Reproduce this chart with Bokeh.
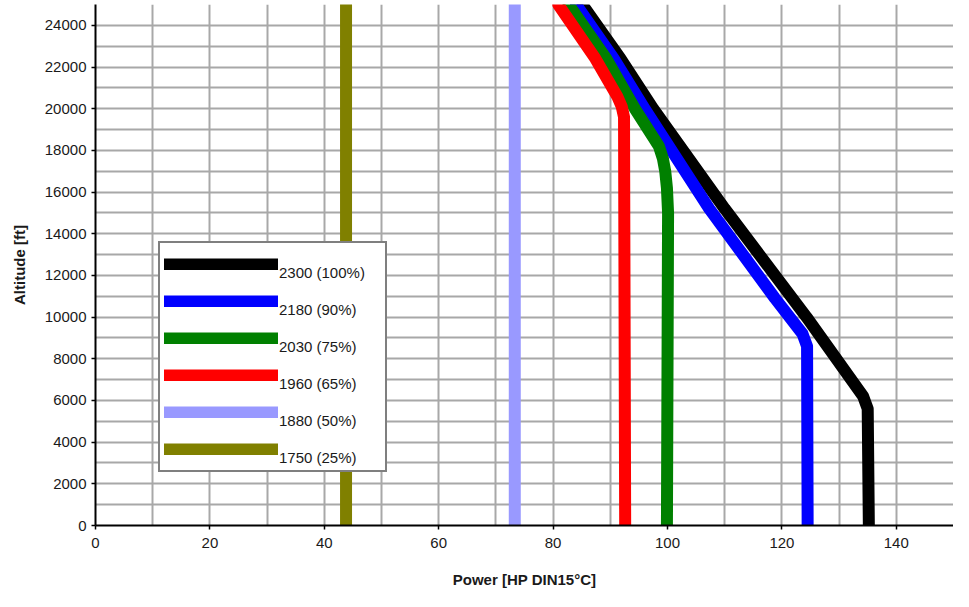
from bokeh.plotting import figure
from bokeh.models import Range1d, SingleIntervalTicker, Legend, LegendItem
from bokeh.embed import file_html
from bokeh.resources import INLINE

# ---- data ----
alt_2300 = [0, 5600, 6200, 10000, 15200, 20000, 22400, 25000]
hp_2300 = [135.2, 135.0, 134.2, 124.3, 110.0, 97.5, 91.8, 85.1]

alt_2180 = [0, 8600, 9200, 10900, 15200, 20000, 22400, 25000]
hp_2180 = [124.5, 124.4, 123.6, 118.8, 107.3, 96.0, 90.6, 84.0]

alt_2030 = [0, 15000, 16200, 17000, 17600, 18200, 20000, 22400, 25000]
hp_2030 = [99.9, 100.1, 99.9, 99.6, 99.2, 98.5, 94.3, 89.3, 82.7]

alt_1960 = [0, 19600, 20100, 20600, 22400, 25000]
hp_1960 = [92.6, 92.4, 92.0, 91.2, 87.4, 80.9]

alt_1880 = [0, 25000]
hp_1880 = [73.3, 73.3]

alt_1750 = [0, 25000]
hp_1750 = [43.8, 43.8]

series_labels = ["2300 (100%)", "2180 (90%)", "2030 (75%)", "1960 (65%)", "1880 (50%)", "1750 (25%)"]
series_colors = ["#000000", "#0000FF", "#008000", "#FF0000", "#9999FF", "#808000"]

x_title = "Power [HP DIN15°C]"
y_title = "Altitude [ft]"

FONT = "Liberation Sans"

p = figure(width=953, height=591, output_backend="svg", toolbar_location=None,
           x_range=Range1d(0, 150), y_range=Range1d(0, 25000),
           min_border_left=95, min_border_right=0, min_border_top=4, min_border_bottom=66)
p.background_fill_color = "white"
p.border_fill_color = "white"
p.outline_line_color = None

# grid
p.xgrid.ticker = SingleIntervalTicker(interval=10, num_minor_ticks=0)
p.ygrid.ticker = SingleIntervalTicker(interval=1000, num_minor_ticks=0)
for g in (p.xgrid, p.ygrid):
    g.grid_line_color = "#a8a8a8"
    g.grid_line_width = 2

# axes
p.xaxis.ticker = SingleIntervalTicker(interval=20, num_minor_ticks=0)
p.yaxis.ticker = SingleIntervalTicker(interval=2000, num_minor_ticks=0)
for ax in (p.xaxis, p.yaxis):
    ax.axis_line_color = "black"
    ax.axis_line_width = 2
    ax.major_tick_line_color = "black"
    ax.major_tick_line_width = 1.5
    ax.major_tick_in = 0
    ax.major_tick_out = 4
    ax.minor_tick_line_color = None
    ax.major_label_text_font = FONT
    ax.major_label_text_font_size = "15px"
    ax.major_label_text_color = "#1a1a1a"
    ax.axis_label_text_font = FONT
    ax.axis_label_text_font_size = "15px"
    ax.axis_label_text_font_style = "bold"
    ax.axis_label_text_color = "#1a1a1a"
p.xaxis.major_label_standoff = 8
p.yaxis.major_label_standoff = 5
p.xaxis.axis_label = x_title
p.yaxis.axis_label = y_title
p.xaxis.axis_label_standoff = 20
p.yaxis.axis_label_standoff = 14

series = [(hp_2300, alt_2300), (hp_2180, alt_2180), (hp_2030, alt_2030),
          (hp_1960, alt_1960), (hp_1880, alt_1880), (hp_1750, alt_1750)]
renderers = []
for (xs, ys), c in zip(series, series_colors):
    r = p.line(xs, ys, line_color=c, line_width=12, line_cap="round", line_join="round")
    renderers.append(r)

# leading newline pushes each label a bit below its line sample, as in the reference
items = [LegendItem(label="\n" + lab, renderers=[r]) for lab, r in zip(series_labels, renderers)]
legend = Legend(items=items, location=(63, 53))
legend.glyph_width = 114
legend.glyph_height = 12
legend.label_height = 12
legend.label_width = 102
legend.label_standoff = 1
legend.spacing = 3
legend.padding = 4
legend.margin = 0
legend.label_text_font = FONT
legend.label_text_font_size = "15px"
legend.label_text_line_height = 0.94
legend.label_text_color = "#1a1a1a"
legend.border_line_color = "black"
legend.border_line_width = 2
legend.background_fill_color = "white"
legend.background_fill_alpha = 1.0
p.add_layout(legend, "center")

open("out.html", "w").write(file_html(p, INLINE))
